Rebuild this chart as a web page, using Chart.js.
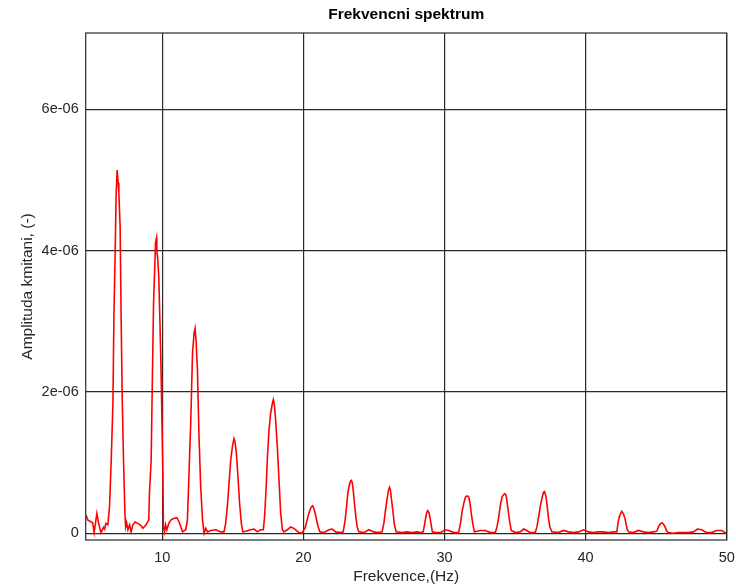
<!DOCTYPE html>
<html><head><meta charset="utf-8">
<script src="https://cdn.jsdelivr.net/npm/chart.js@4/dist/chart.umd.min.js"></script>
<style>html,body{margin:0;padding:0;background:#fff}</style>
</head><body>
<canvas id="c" width="736" height="587"></canvas>
<script>
const freq = [
4.59,4.71,5.06,5.17,5.36,5.48,5.65,5.84,5.91,6.00,
6.14,6.26,6.38,6.50,6.57,6.66,6.73,6.80,6.87,6.92,
7.01,7.08,7.16,7.25,7.35,7.40,7.47,7.56,7.68,7.79,
7.91,8.08,8.27,8.43,8.62,8.85,9.04,9.09,9.21,9.28,
9.38,9.45,9.52,9.59,9.61,9.68,9.75,9.84,9.92,9.96,
10.04,10.08,10.16,10.23,10.32,10.46,10.62,10.79,11.03,11.19,
11.43,11.66,11.78,11.90,12.02,12.14,12.25,12.32,12.39,12.49,
12.60,12.72,12.85,12.96,13.08,13.20,13.43,13.79,14.14,
14.37,14.49,14.61,14.73,14.85,14.97,15.08,15.15,15.25,15.36,15.48,15.60,15.70,
15.91,16.26,16.50,16.74,16.97,
17.16,17.25,17.35,17.45,17.56,17.68,17.80,17.87,17.94,18.03,18.15,18.27,18.39,18.51,
18.62,18.86,19.09,19.33,19.68,19.92,
20.02,20.11,20.23,20.35,20.46,20.58,20.65,20.74,20.84,20.93,21.05,21.17,
21.45,21.80,22.05,22.28,22.63,
22.82,22.96,23.06,23.15,23.25,23.34,23.39,23.46,23.53,23.62,23.72,23.81,23.93,
24.28,24.64,24.99,25.27,
25.58,25.70,25.82,25.94,26.03,26.10,26.17,26.26,26.36,26.45,26.57,
27.00,27.35,27.71,28.06,28.30,
28.49,28.60,28.72,28.81,28.91,29.02,29.14,
29.36,29.71,30.06,30.30,30.65,
31.00,31.13,31.25,31.36,31.48,31.60,31.71,31.81,31.90,32.00,32.12,
32.54,32.89,33.25,33.60,
33.72,33.84,33.96,34.08,34.26,34.36,34.45,34.54,34.64,34.73,
35.02,35.37,35.61,35.84,36.08,
36.43,36.55,36.67,36.79,36.91,37.02,37.09,37.19,37.28,37.37,37.47,37.61,
38.08,38.44,38.79,39.14,39.50,39.85,40.20,40.56,40.91,41.27,41.62,41.97,
42.21,42.33,42.45,42.57,42.69,42.80,42.94,43.04,
43.39,43.74,44.10,44.45,44.80,
45.05,45.16,45.28,45.40,45.51,45.63,45.75,45.87,
46.22,46.57,46.93,47.28,47.64,47.92,48.23,48.58,48.94,49.29,49.65,49.88,50.00];
const amp = [
0.26e-6,0.19e-6,0.15e-6,0.01e-6,0.28e-6,0.15e-6,0.01e-6,0.085e-6,0.06e-6,0.14e-6,
0.12e-6,0.38e-6,1.04e-6,1.84e-6,3.07e-6,4.01e-6,4.82e-6,5.14e-6,4.96e-6,4.82e-6,
4.34e-6,3.07e-6,1.89e-6,1.04e-6,0.29e-6,0.09e-6,0.15e-6,0.05e-6,0.12e-6,0.02e-6,
0.12e-6,0.16e-6,0.14e-6,0.12e-6,0.07e-6,0.12e-6,0.19e-6,0.57e-6,1.04e-6,1.99e-6,
3.26e-6,3.68e-6,4.11e-6,4.18e-6,4.01e-6,3.87e-6,3.63e-6,2.92e-6,2.22e-6,1.75e-6,
0.80e-6,0.09e-6,0.02e-6,0.12e-6,0.05e-6,0.14e-6,0.19e-6,0.21e-6,0.22e-6,0.16e-6,
0.02e-6,0.05e-6,0.19e-6,0.90e-6,1.60e-6,2.55e-6,2.83e-6,2.90e-6,2.74e-6,2.31e-6,
1.37e-6,0.66e-6,0.19e-6,0,0.07e-6,0.02e-6,0.04e-6,0.05e-6,0.02e-6,
0.02e-6,0.14e-6,0.38e-6,0.71e-6,1.04e-6,1.23e-6,1.34e-6,1.30e-6,1.13e-6,0.80e-6,0.42e-6,0.14e-6,0.02e-6,
0.03e-6,0.05e-6,0.06e-6,0.02e-6,0.05e-6,
0.05e-6,0.24e-6,0.61e-6,1.08e-6,1.46e-6,1.70e-6,1.84e-6,1.89e-6,1.82e-6,1.61e-6,1.23e-6,0.75e-6,0.28e-6,0.05e-6,
0.02e-6,0.05e-6,0.09e-6,0.07e-6,0.01e-6,0,
0.05e-6,0.07e-6,0.16e-6,0.26e-6,0.33e-6,0.38e-6,0.39e-6,0.35e-6,0.28e-6,0.19e-6,0.09e-6,0.02e-6,
0.01e-6,0.05e-6,0.06e-6,0.02e-6,0.01e-6,
0.02e-6,0.19e-6,0.38e-6,0.57e-6,0.68e-6,0.74e-6,0.75e-6,0.72e-6,0.61e-6,0.42e-6,0.23e-6,0.09e-6,0.02e-6,
0.01e-6,0.05e-6,0.02e-6,0.01e-6,
0.02e-6,0.14e-6,0.33e-6,0.50e-6,0.61e-6,0.65e-6,0.61e-6,0.45e-6,0.28e-6,0.12e-6,0.02e-6,
0.01e-6,0.02e-6,0.01e-6,0.02e-6,0.01e-6,
0.02e-6,0.14e-6,0.28e-6,0.32e-6,0.29e-6,0.16e-6,0.02e-6,
0.01e-6,0.01e-6,0.05e-6,0.04e-6,0.01e-6,
0.01e-6,0.14e-6,0.31e-6,0.42e-6,0.51e-6,0.53e-6,0.52e-6,0.42e-6,0.28e-6,0.14e-6,0.02e-6,
0.04e-6,0.04e-6,0.01e-6,0.01e-6,
0.09e-6,0.23e-6,0.40e-6,0.52e-6,0.56e-6,0.54e-6,0.42e-6,0.28e-6,0.14e-6,0.04e-6,
0.01e-6,0.02e-6,0.06e-6,0.04e-6,0.01e-6,
0.01e-6,0.09e-6,0.23e-6,0.38e-6,0.50e-6,0.58e-6,0.59e-6,0.52e-6,0.38e-6,0.21e-6,0.09e-6,0.02e-6,
0.01e-6,0.04e-6,0.02e-6,0.01e-6,0.02e-6,0.05e-6,0.02e-6,0.01e-6,0.02e-6,0.02e-6,0.01e-6,0.02e-6,
0.02e-6,0.19e-6,0.27e-6,0.31e-6,0.27e-6,0.20e-6,0.06e-6,0.02e-6,
0.01e-6,0.04e-6,0.02e-6,0.01e-6,0.02e-6,
0.03e-6,0.09e-6,0.13e-6,0.15e-6,0.13e-6,0.09e-6,0.03e-6,0.01e-6,
0,0.01e-6,0.01e-6,0.01e-6,0.02e-6,0.06e-6,0.05e-6,0.01e-6,0.01e-6,0.04e-6,0.04e-6,0.01e-6,0];
const xTicks = [10, 20, 30, 40, 50];
const yTicks = [0, 2e-6, 4e-6, 6e-6];
const yTickLabels = ['0', '2e-06', '4e-06', '6e-06'];

const FONT = 'Liberation Sans, Arial, Helvetica, sans-serif';
const TXT = '#262626';
const GRID = '#2a2a2a';

const framePlugin = {
  id: 'frame',
  afterDraw(chart) {
    const a = chart.chartArea, ctx = chart.ctx;
    ctx.save();
    ctx.strokeStyle = GRID;
    ctx.lineWidth = 1.2;
    ctx.strokeRect(a.left, a.top, a.right - a.left, a.bottom - a.top);
    ctx.restore();
  }
};

new Chart(document.getElementById('c'), {
  type: 'line',
  data: {
    datasets: [{
      data: freq.map((f, i) => ({x: f, y: amp[i]})),
      borderColor: '#ff0000',
      borderWidth: 1.6,
      pointRadius: 0,
      tension: 0,
      fill: false
    }]
  },
  options: {
    responsive: false,
    animation: false,
    devicePixelRatio: 1,
    layout: {padding: {top: 0, right: 9.3, bottom: 0, left: 0}},
    plugins: {
      legend: {display: false},
      tooltip: {enabled: false},
      title: {
        display: true,
        text: 'Frekvencni spektrum',
        fullSize: false,
        color: '#000',
        font: {family: FONT, size: 15.5, weight: 'bold'},
        padding: {top: 5.7, bottom: 8.7}
      }
    },
    scales: {
      x: {
        type: 'linear',
        min: 4.57,
        max: 50,
        afterBuildTicks: s => { s.ticks = xTicks.map(v => ({value: v})); },
        afterFit: s => { s.height = 47; s.paddingRight = 0; s.paddingLeft = 0; },
        ticks: {
          autoSkip: false, maxRotation: 0, padding: 9,
          color: TXT, font: {family: FONT, size: 14.5},
          callback: v => String(v)
        },
        grid: {color: GRID, lineWidth: 1.2, drawTicks: false},
        border: {display: false},
        title: {display: true, text: 'Frekvence,(Hz)', color: TXT,
          font: {family: FONT, size: 15.5}, padding: {top: 0, bottom: 1}}
      },
      y: {
        type: 'linear',
        min: -0.095e-6,
        max: 7.08e-6,
        afterBuildTicks: s => { s.ticks = yTicks.map(v => ({value: v})); },
        afterFit: s => { s.width = 85.7; s.paddingTop = 0; s.paddingBottom = 0; },
        ticks: {
          padding: 7, color: TXT, font: {family: FONT, size: 14.5},
          callback: v => { const i = yTicks.indexOf(v); return i >= 0 ? yTickLabels[i] : ''; }
        },
        grid: {color: GRID, lineWidth: 1.2, drawTicks: false},
        border: {display: false},
        title: {display: true, text: 'Amplituda kmitani, (-)', color: TXT,
          font: {family: FONT, size: 15.5}, padding: {top: 18.2, bottom: 0}}
      }
    }
  },
  plugins: [framePlugin]
});
</script>
</body></html>
